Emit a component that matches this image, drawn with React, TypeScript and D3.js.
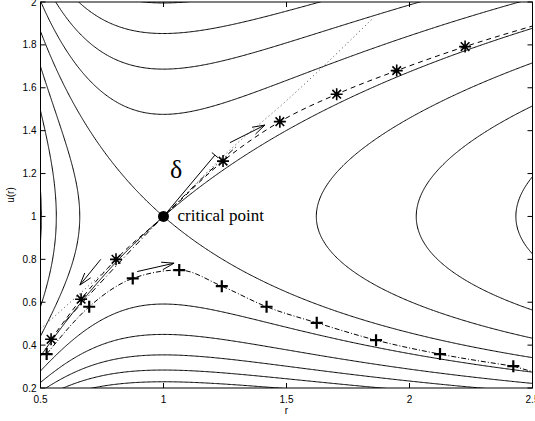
import React, { useMemo } from 'react';
import * as d3 from 'd3';

const W = 535;
const H = 421;
const margin = { top: 2, right: 2.5, bottom: 33, left: 40.5 };

const xTicks = [0.5, 1, 1.5, 2, 2.5];
const yTicks = [0.2, 0.4, 0.6, 0.8, 1, 1.2, 1.4, 1.6, 1.8, 2];

// contour levels of the Bernoulli function, critical level is -1.5
const levels = [-2.7, -2.5, -2.3, -2.1, -1.9, -1.7, -1.5, -1.3, -1.1, -0.9, -0.7, -0.5, -0.3];

// asterisk solution (dashed)
const starR = [0.543, 0.665, 0.807, 1.242, 1.473, 1.704, 1.948, 2.226];
const starU = [0.427, 0.614, 0.8, 1.258, 1.442, 1.57, 1.68, 1.792];
const dashR = [0.543, 0.665, 0.807, 1, 1.242, 1.473, 1.704, 1.948, 2.226, 2.5];
const dashU = [0.427, 0.614, 0.8, 1, 1.258, 1.442, 1.57, 1.68, 1.792, 1.888];

// plus solution (dash-dot)
const plusR = [0.525, 0.698, 0.875, 1.064, 1.237, 1.419, 1.623, 1.864, 2.124, 2.422];
const plusU = [0.358, 0.579, 0.711, 0.75, 0.675, 0.579, 0.504, 0.423, 0.358, 0.302];
const plusEndR = [2.422, 2.5];
const plusEndU = [0.302, 0.276];

// dotted curve through the critical point
const dotR = [0.5, 0.69, 1, 1.27, 1.5, 1.852];
const dotU = [0.476, 0.671, 1, 1.31, 1.54, 1.925];

// dash-dot along the separatrix
const sepR = [0.6, 0.8, 1, 1.15, 1.3];
const sepU = [0.51, 0.76, 1, 1.17, 1.33];

// arrows: [r0, u0, r1, u1]
const arrows = [
  [1.27, 1.344, 1.412, 1.426],
  [0.745, 0.8, 0.66, 0.68],
  [0.893, 0.743, 1.043, 0.782],
];

// delta segment
const deltaR = [1, 1.209];
const deltaU = [1, 1.286];

const bernoulli = (r: number, u: number) => (u * u) / 2 - Math.log(u) - 2 * Math.log(r) - 2 / r;

const zip = (a: number[], b: number[]) => a.map((v, i) => [v, b[i]] as [number, number]);

export default function App() {
  const x = d3.scaleLinear().domain([0.5, 2.5]).range([margin.left, W - margin.right]);
  const y = d3.scaleLinear().domain([0.2, 2]).range([H - margin.bottom, margin.top]);

  const contourPaths = useMemo(() => {
    const r0 = 0.4013, u0 = 0.1011, step = 0.005;
    const nx = 441, ny = 401;
    const values = new Array(nx * ny);
    for (let j = 0; j < ny; j++) {
      for (let i = 0; i < nx; i++) {
        values[i + j * nx] = bernoulli(r0 + i * step, u0 + j * step);
      }
    }
    const gen = d3.contours().size([nx, ny]).thresholds(levels);
    const proj = d3.geoTransform({
      point(px: number, py: number) {
        this.stream.point(x(r0 + (px - 0.5) * step), y(u0 + (py - 0.5) * step));
      },
    });
    const path = d3.geoPath(proj);
    return gen(values).map((c) => path(c as any) || '');
  }, []);

  const line = d3
    .line<[number, number]>()
    .x((d) => x(d[0]))
    .y((d) => y(d[1]));
  const smooth = line.curve(d3.curveMonotoneX);

  const x0 = margin.left, x1 = W - margin.right, y0 = margin.top, y1 = H - margin.bottom;
  const tick = 5;

  const arrowPath = (a: number[]) => {
    const px0 = x(a[0]), py0 = y(a[1]), px1 = x(a[2]), py1 = y(a[3]);
    const ang = Math.atan2(py1 - py0, px1 - px0);
    const len = 13, spread = 0.3;
    const b1 = [px1 - len * Math.cos(ang - spread), py1 - len * Math.sin(ang - spread)];
    const b2 = [px1 - len * Math.cos(ang + spread), py1 - len * Math.sin(ang + spread)];
    return `M${px0},${py0}L${px1},${py1}M${b1[0]},${b1[1]}L${px1},${py1}L${b2[0]},${b2[1]}`;
  };

  // perpendicular tick at the end of delta
  const dx = x(deltaR[1]) - x(deltaR[0]);
  const dy = y(deltaU[1]) - y(deltaU[0]);
  const dl = Math.hypot(dx, dy);
  const nxp = (-dy / dl) * 4, nyp = (dx / dl) * 4;
  const ex = x(deltaR[1]), ey = y(deltaU[1]);

  const starPath = 'M-6,0H6M0,-6V6M-4.3,-4.3L4.3,4.3M-4.3,4.3L4.3,-4.3';
  const plusPath = 'M-6,0H6M0,-6V6';

  const sans = 'Liberation Sans, Arial, sans-serif';
  const serif = 'Liberation Serif, Times New Roman, serif';

  return (
    <svg width={W} height={H} style={{ position: 'absolute', left: 0, top: 0, background: '#fff' }}>
      <defs>
        <clipPath id="plot">
          <rect x={x0} y={y0} width={x1 - x0} height={y1 - y0} />
        </clipPath>
      </defs>
      <rect x={0} y={0} width={W} height={H} fill="#fff" />
      <g clipPath="url(#plot)" fill="none" stroke="#000">
        {contourPaths.map((d, i) => (
          <path key={i} d={d} strokeWidth={1} />
        ))}
        <path d={line(zip(dotR, dotU)) || ''} strokeWidth={1} strokeDasharray="1,3" stroke="#444" />
        <path d={line(zip(sepR, sepU)) || ''} strokeWidth={1} strokeDasharray="6,3,1,3" />
        <path d={smooth(zip(dashR, dashU)) || ''} strokeWidth={1} strokeDasharray="5,4" />
        <path d={line(zip(plusR, plusU)) || ''} strokeWidth={1} strokeDasharray="5,2,1,2" />
        <path d={line(zip(plusEndR, plusEndU)) || ''} strokeWidth={1} strokeDasharray="5,2,1,2" />
        {arrows.map((a, i) => (
          <path key={i} d={arrowPath(a)} strokeWidth={1} />
        ))}
        <path d={line(zip(deltaR, deltaU)) || ''} strokeWidth={1} />
        <path d={`M${ex - nxp},${ey - nyp}L${ex + nxp},${ey + nyp}`} strokeWidth={1} />
        {starR.map((r, i) => (
          <path key={i} d={starPath} transform={`translate(${x(r)},${y(starU[i])})`} strokeWidth={1.6} />
        ))}
        {plusR.map((r, i) => (
          <path key={i} d={plusPath} transform={`translate(${x(r)},${y(plusU[i])})`} strokeWidth={2.2} />
        ))}
      </g>
      <circle cx={x(1)} cy={y(1)} r={5.5} fill="#000" />
      <text x={x(1) + 14} y={y(1) + 4.5} fontFamily={serif} fontSize={17}>
        critical point
      </text>
      <text x={170} y={178} fontFamily={serif} fontSize={26}>
        δ
      </text>

      {/* axes box with inward ticks */}
      <g stroke="#000" strokeWidth={1} fill="none">
        <rect x={x0} y={y0} width={x1 - x0} height={y1 - y0} />
        {xTicks.map((t) => (
          <path key={'xt' + t} d={`M${x(t)},${y1}v${-tick}M${x(t)},${y0}v${tick}`} />
        ))}
        {yTicks.map((t) => (
          <path key={'yt' + t} d={`M${x0},${y(t)}h${tick}M${x1},${y(t)}h${-tick}`} />
        ))}
      </g>
      <g fontFamily={sans} fontSize={10} fill="#000">
        {xTicks.map((t) => (
          <text key={'xl' + t} x={x(t)} y={y1 + 14.5} textAnchor="middle">
            {String(t)}
          </text>
        ))}
        {yTicks.map((t) => (
          <text key={'yl' + t} x={x0 - 4} y={y(t) + 3.5} textAnchor="end">
            {String(t)}
          </text>
        ))}
        <text x={(x0 + x1) / 2} y={414} textAnchor="middle">
          r
        </text>
        <text transform={`translate(14,${(y0 + y1) / 2}) rotate(-90)`} textAnchor="middle">
          u(r)
        </text>
      </g>
    </svg>
  );
}
